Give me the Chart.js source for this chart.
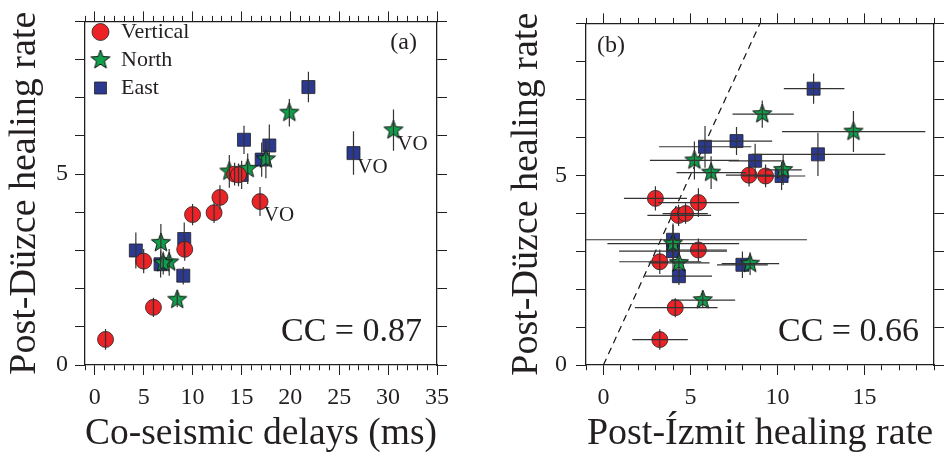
<!DOCTYPE html>
<html><head><meta charset="utf-8">
<script src="https://cdn.jsdelivr.net/npm/chart.js@4"></script>
<style>
html,body{margin:0;padding:0;background:#fff;}
#wrap{position:relative;width:944px;height:455px;overflow:hidden;}
.pane{position:absolute;top:0;width:472px;height:455px;}
canvas{display:block;}
</style></head><body>
<div id="wrap">
<div class="pane" style="left:0"><canvas id="ca" width="472" height="455"></canvas></div>
<div class="pane" style="left:472px"><canvas id="cb" width="472" height="455"></canvas></div>
</div>
<script>
// ---------- data ----------
const seriesNames = ['Vertical', 'North', 'East'];

const vertDelay    = [1.1, 6.0, 5.0, 9.2, 10.0, 12.2, 12.8, 16.9, 14.3, 14.7];
const vertDuzce    = [0.67, 1.51, 2.72, 3.03, 3.94, 3.99, 4.39, 4.28, 5.0, 4.98];
const vertDuzceErr = [0.27, 0.25, 0.32, 0.3, 0.28, 0.27, 0.32, 0.38, 0.3, 0.3];
const vertIzmit    = [3.24, 4.13, 3.24, 5.46, 4.32, 4.72, 2.99, 5.46, 8.37, 9.32];
const vertIzmitLo  = [1.66, 1.81, 0.91, 3.8, 2.53, 3.4, 1.18, 3.14, 7.04, 8.0];
const vertIzmitHi  = [4.85, 6.56, 5.62, 7.1, 6.19, 6.0, 4.8, 7.8, 9.7, 10.6];
const vertTag      = ['', '', '', '', '', '', '', 'VO', '', ''];

const northDelay    = [19.9, 30.55, 17.5, 13.76, 15.64, 6.76, 7.61, 7.0, 8.43];
const northDuzce    = [6.61, 6.15, 5.39, 5.07, 5.14, 3.2, 2.69, 2.67, 1.71];
const northDuzceErr = [0.36, 0.54, 0.5, 0.43, 0.4, 0.49, 0.35, 0.3, 0.2];
const northIzmit    = [9.13, 14.37, 5.23, 6.19, 10.33, 4.0, 4.34, 8.43, 5.71];
const northIzmitLo  = [7.42, 10.27, 2.67, 4.2, 9.3, 0.23, 2.6, 6.8, 3.9];
const northIzmitHi  = [10.94, 18.5, 7.8, 8.2, 11.4, 7.8, 6.1, 10.1, 7.57];
const northTag      = ['', 'VO', '', '', '', '', '', '', ''];

const eastDelay    = [21.85, 15.26, 17.85, 26.46, 17.07, 15.02, 4.2, 9.15, 6.73, 9.05];
const eastDuzce    = [7.28, 5.90, 5.75, 5.55, 5.38, 4.98, 3.0, 3.30, 2.64, 2.34];
const eastDuzceErr = [0.4, 0.37, 0.55, 0.57, 0.45, 0.37, 0.47, 0.43, 0.35, 0.23];
const eastIzmit    = [12.08, 7.65, 5.84, 12.33, 8.72, 10.24, 4.0, 4.0, 7.99, 4.34];
const eastIzmitLo  = [10.37, 5.6, 3.2, 8.53, 7.2, 8.9, 0.9, -3.7, 6.53, 2.38];
const eastIzmitHi  = [13.85, 9.7, 8.5, 16.2, 10.25, 11.6, 7.1, 11.7, 9.45, 6.24];
const eastTag      = ['', '', '', 'VO', '', '', '', '', '', ''];

const identityX = [0, 9];
const identityY = [0, 9];

const yTitle = 'Post-Düzce healing rate';
const xTitleA = 'Co-seismic delays (ms)';
const xTitleB = 'Post-Ízmit healing rate';
const panelA = '(a)', panelB = '(b)';
const ccA = 'CC = 0.87', ccB = 'CC = 0.66';
const xRangeA = [-1, 35], xRangeB = [-1, 19], yRange = [0, 9];
const labelEvery = 5;

// ---------- style ----------
const FONT = "'Liberation Serif', 'Times New Roman', serif";
const INK = '#231f20';
const RED = '#ec2227', GREEN = '#10a04b', BLUE = '#2b3990';
Chart.defaults.font.family = FONT;
Chart.defaults.color = INK;

function makeStar(R, r, fill, stroke) {
  const s = Math.ceil(2 * R + 4);
  const c = document.createElement('canvas'); c.width = s; c.height = s;
  const g = c.getContext('2d'); g.beginPath();
  for (let i = 0; i < 10; i++) {
    const ang = -Math.PI / 2 + i * Math.PI / 5, rad = i % 2 === 0 ? R : r;
    const px = s / 2 + rad * Math.cos(ang), py = s / 2 + rad * Math.sin(ang);
    if (i === 0) g.moveTo(px, py); else g.lineTo(px, py);
  }
  g.closePath(); g.fillStyle = fill; g.fill();
  g.lineWidth = 1; g.strokeStyle = stroke; g.stroke();
  return c;
}
const starImg = makeStar(10, 4.2, GREEN, '#111');

function pts(xs, ys, es, lo, hi, tags) {
  return xs.map((x, i) => ({x: x, y: ys[i], e: es[i], lo: lo ? lo[i] : undefined, hi: hi ? hi[i] : undefined, tag: tags ? tags[i] : ''}));
}

function seriesSets(useIzmit) {
  const V = useIzmit ? pts(vertIzmit, vertDuzce, vertDuzceErr, vertIzmitLo, vertIzmitHi, null)
                     : pts(vertDelay, vertDuzce, vertDuzceErr, null, null, vertTag);
  const N = useIzmit ? pts(northIzmit, northDuzce, northDuzceErr, northIzmitLo, northIzmitHi, null)
                     : pts(northDelay, northDuzce, northDuzceErr, null, null, northTag);
  const E = useIzmit ? pts(eastIzmit, eastDuzce, eastDuzceErr, eastIzmitLo, eastIzmitHi, null)
                     : pts(eastDelay, eastDuzce, eastDuzceErr, null, null, eastTag);
  return [
    {label: seriesNames[0], data: V, errs: true, pointStyle: 'circle', pointRadius: 8, backgroundColor: RED, borderColor: '#222', borderWidth: 0.8},
    {label: seriesNames[1], data: N, errs: true, pointStyle: starImg, pointRadius: 9, backgroundColor: GREEN, borderColor: '#222', borderWidth: 0.8},
    {label: seriesNames[2], data: E, errs: true, pointStyle: 'rect', pointRadius: 9.2, backgroundColor: BLUE, borderColor: '#222', borderWidth: 0.8}
  ];
}

const decorPlugin = {
  id: 'decor',
  afterDatasetsDraw(chart, args, o) {
    const {ctx, chartArea: a} = chart;
    const xs = chart.scales.x, ys = chart.scales.y;
    ctx.save();
    ctx.beginPath(); ctx.rect(a.left, a.top, a.right - a.left, a.bottom - a.top); ctx.clip();
    ctx.strokeStyle = '#333'; ctx.lineWidth = 1.2;
    chart.data.datasets.forEach((ds, di) => {
      if (!ds.errs) return;
      const meta = chart.getDatasetMeta(di);
      ds.data.forEach((p, i) => {
        const el = meta.data[i];
        ctx.beginPath();
        ctx.moveTo(el.x, ys.getPixelForValue(p.y - p.e));
        ctx.lineTo(el.x, ys.getPixelForValue(p.y + p.e));
        if (p.lo !== undefined) {
          ctx.moveTo(xs.getPixelForValue(p.lo), el.y);
          ctx.lineTo(xs.getPixelForValue(p.hi), el.y);
        }
        ctx.stroke();
      });
    });
    ctx.restore();
    ctx.save();
    ctx.fillStyle = INK; ctx.textBaseline = 'middle';
    ctx.font = '21px ' + FONT; ctx.textAlign = 'center';
    chart.data.datasets.forEach((ds, di) => {
      if (!ds.errs) return;
      const meta = chart.getDatasetMeta(di);
      ds.data.forEach((p, i) => { if (p.tag) ctx.fillText(p.tag, meta.data[i].x + 19, meta.data[i].y + 14); });
    });
    ctx.font = '24px ' + FONT;
    if (o.cornerRight) { ctx.textAlign = 'right'; ctx.fillText(o.corner, a.right - 20, a.top + 21); }
    else { ctx.textAlign = 'left'; ctx.fillText(o.corner, a.left + 11, a.top + 22); }
    ctx.font = '34px ' + FONT; ctx.textAlign = 'right';
    ctx.fillText(o.cc, a.right - 15, a.bottom - 33);
    ctx.restore();
  }
};

function xDash(top) {
  return (c) => {
    const v = c.tick ? c.tick.value : 0;
    if (Math.abs(v % labelEvery) < 1e-9) return [];
    return top ? [0, 4.5, 6, 100] : [5, 100];
  };
}

function makeScales(xr, yw, y2w, yTitlePad, yTickPad, xTitleText) {
  const gridBase = {display: true, drawOnChartArea: false, drawTicks: true, tickLength: 10, color: INK, tickWidth: 1};
  const border = {display: true, color: INK, width: 1.3};
  return {
    x: {type: 'linear', position: 'bottom', min: xr[0], max: xr[1],
        ticks: {stepSize: 1, maxTicksLimit: 100, autoSkip: false, maxRotation: 0, padding: 8, font: {size: 24},
                callback: (v) => (Math.abs(v % labelEvery) < 1e-9 ? String(v) : '')},
        grid: Object.assign({}, gridBase, {tickBorderDash: xDash(false)}), border,
        title: {display: true, text: xTitleText, font: {size: 38, lineHeight: 1}, padding: {top: 0, bottom: 1.5}},
        afterFit: (s) => { s.height = 90; }},
    x2: {type: 'linear', position: 'top', min: xr[0], max: xr[1],
        ticks: {display: false, stepSize: 1, maxTicksLimit: 100, autoSkip: false},
        grid: Object.assign({}, gridBase, {tickBorderDash: xDash(true)}), border,
        afterFit: (s) => { s.height = 10; }},
    y: {type: 'linear', position: 'left', min: yRange[0], max: yRange[1],
        ticks: {stepSize: 1, maxTicksLimit: 100, autoSkip: false, padding: yTickPad, font: {size: 24},
                callback: (v) => (Math.abs(v % labelEvery) < 1e-9 ? String(v) : '')},
        grid: gridBase, border,
        title: {display: true, text: yTitle, font: {size: 38, lineHeight: 1}, padding: {top: yTitlePad, bottom: 0}},
        afterFit: (s) => { s.width = yw; }},
    y2: {type: 'linear', position: 'right', min: yRange[0], max: yRange[1],
        ticks: {display: false, stepSize: 1, maxTicksLimit: 100, autoSkip: false},
        grid: gridBase, border,
        afterFit: (s) => { s.width = y2w; }}
  };
}

new Chart(document.getElementById('ca'), {
  type: 'scatter',
  data: {datasets: seriesSets(false)},
  options: {
    responsive: false, animation: false, devicePixelRatio: 1,
    layout: {padding: {left: 0, right: 23, top: 4, bottom: 0}},
    scales: makeScales(xRangeA, 85, 12, 6, 7, xTitleA),
    plugins: {
      legend: {display: true, position: 'chartArea', align: 'start',
        title: {display: true, text: '', font: {size: 10, lineHeight: 1}, padding: {top: 5, bottom: 0}},
        labels: {usePointStyle: true, boxWidth: 19, boxHeight: 12, padding: 6, font: {size: 22}, color: INK}},
      tooltip: {enabled: false},
      decor: {corner: panelA, cornerRight: true, cc: ccA}
    }
  },
  plugins: [decorPlugin]
});

const setsB = seriesSets(true);
setsB.push({label: 'identity', data: identityX.map((x, i) => ({x: x, y: identityY[i]})), showLine: true,
  borderColor: '#111', borderWidth: 1.2, borderDash: [7, 5], pointRadius: 0, fill: false, errs: false});
new Chart(document.getElementById('cb'), {
  type: 'scatter',
  data: {datasets: setsB},
  options: {
    responsive: false, animation: false, devicePixelRatio: 1,
    layout: {padding: {left: 0, right: 0, top: 4, bottom: 0}},
    scales: makeScales(xRangeB, 114, 6, 36, 9, xTitleB),
    plugins: {
      legend: {display: false},
      tooltip: {enabled: false},
      decor: {corner: panelB, cornerRight: false, cc: ccB}
    }
  },
  plugins: [decorPlugin]
});
</script>
</body></html>
